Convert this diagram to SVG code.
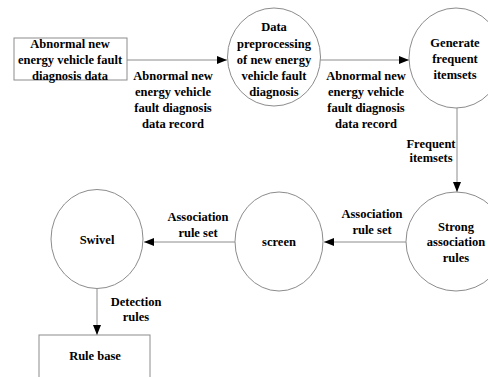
<svg xmlns="http://www.w3.org/2000/svg" width="488" height="377" viewBox="0 0 488 377">
<style>
text{font-family:"Liberation Serif","Times New Roman",serif;font-weight:bold;font-size:12.5px;fill:#000;text-anchor:middle}
.n{fill:#fff;stroke:#8c8c8c;stroke-width:1}
.c{stroke:#8c8c8c;stroke-width:1;fill:none;marker-end:url(#ah)}
</style>
<defs>
<marker id="ah" markerUnits="userSpaceOnUse" markerWidth="12" markerHeight="10" refX="10" refY="4" orient="auto">
<path d="M0,0 L10,4 L0,8 Z" fill="#000"/>
</marker>
</defs>
<rect width="488" height="377" fill="#fff"/>
<g id="connectors">
<line class="c" x1="127" y1="60" x2="227" y2="60"/>
<line class="c" x1="320" y1="60" x2="409" y2="60"/>
<line class="c" x1="457" y1="108" x2="457" y2="192"/>
<line class="c" x1="407" y1="242" x2="324" y2="242"/>
<line class="c" x1="235" y1="242" x2="144" y2="242"/>
<line class="c" x1="97" y1="289" x2="97" y2="335"/>
<g id="labels">
<text x="173" y="80">Abnormal new</text>
<text x="173" y="96">energy vehicle</text>
<text x="173" y="112">fault diagnosis</text>
<text x="173" y="128">data record</text>
<text x="366" y="80">Abnormal new</text>
<text x="366" y="96">energy vehicle</text>
<text x="366" y="112">fault diagnosis</text>
<text x="366" y="128">data record</text>
<text x="431" y="148">Frequent</text>
<text x="431" y="162">itemsets</text>
<text x="372" y="218">Association</text>
<text x="372" y="234">rule set</text>
<text x="198" y="221">Association</text>
<text x="198" y="237">rule set</text>
<text x="136" y="306">Detection</text>
<text x="136" y="321">rules</text>
</g>
</g>
<g id="node-data">
<rect class="n" x="14" y="38" width="113" height="42"/>
<text x="70" y="48">Abnormal new</text>
<text x="70" y="64">energy vehicle fault</text>
<text x="70" y="80">diagnosis data</text>
</g>
<g id="node-preprocess">
<ellipse class="n" cx="274" cy="57" rx="46.5" ry="49"/>
<text x="274" y="31">Data</text>
<text x="274" y="47.5">preprocessing</text>
<text x="274" y="64">of new energy</text>
<text x="274" y="80">vehicle fault</text>
<text x="274" y="96">diagnosis</text>
</g>
<g id="node-generate">
<ellipse class="n" cx="456" cy="58" rx="47" ry="50"/>
<text x="455" y="47">Generate</text>
<text x="455" y="63">frequent</text>
<text x="455" y="79">itemsets</text>
</g>
<g id="node-strong">
<ellipse class="n" cx="456" cy="241.5" rx="50" ry="49.5"/>
<text x="456" y="231">Strong</text>
<text x="456" y="246">association</text>
<text x="456" y="262">rules</text>
</g>
<g id="node-screen">
<ellipse class="n" cx="279" cy="241.5" rx="44" ry="49.5"/>
<text x="279" y="246">screen</text>
</g>
<g id="node-swivel">
<ellipse class="n" cx="97" cy="239" rx="46" ry="49.5"/>
<text x="97" y="244">Swivel</text>
</g>
<g id="node-rulebase">
<rect class="n" x="39" y="335" width="111" height="60"/>
<text x="95" y="360">Rule base</text>
</g>
</svg>
